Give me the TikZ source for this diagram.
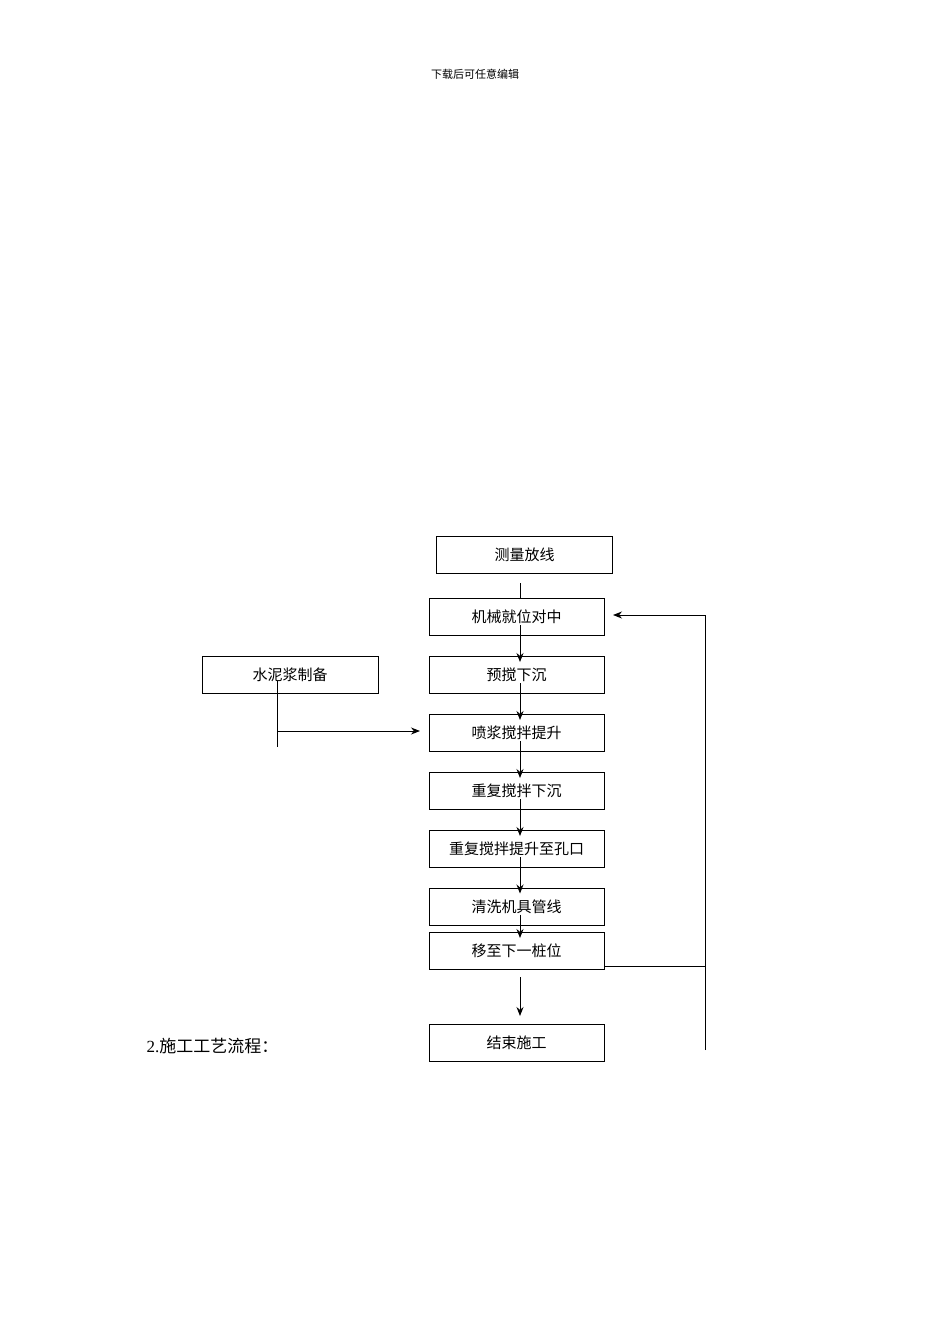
\documentclass[tikz,border=0pt]{standalone}
\usepackage{fontspec}
\setmainfont{Liberation Serif}
\newfontfamily\cjk{Noto Sans CJK SC}
\begin{document}
\begin{tikzpicture}[x=1pt,y=-1pt,
  box/.style={draw,line width=1pt,minimum width=175pt,minimum height=37pt,inner sep=0pt,font=\cjk\fontsize{15}{15}\selectfont},
  arr/.style={-{Stealth[length=9pt,width=7pt]},line width=0.9pt},
  ln/.style={line width=0.9pt}]
\useasboundingbox[fill=white] (0,0) rectangle (950,1344);
\usetikzlibrary{arrows.meta}
\node[font=\cjk\fontsize{11}{11}\selectfont] (hdr) at (475,74) {下载后可任意编辑};
\node[box,minimum width=176pt] (b0) at (524.5,555) {测量放线};
\node[box] (b1) at (516.5,617) {机械就位对中};
\node[box] (b2) at (516.5,675) {预搅下沉};
\node[box] (b3) at (516.5,733) {喷浆搅拌提升};
\node[box] (b4) at (516.5,791) {重复搅拌下沉};
\node[box] (b5) at (516.5,849) {重复搅拌提升至孔口};
\node[box] (b6) at (516.5,906.5) {清洗机具管线};
\node[box] (b7) at (516.5,951) {移至下一桩位};
\node[box] (b8) at (516.5,1042.5) {结束施工};
\node[box,minimum width=176pt] (w) at (290,675) {水泥浆制备};
\node[anchor=west,font=\cjk\fontsize{17}{17}\selectfont] (t) at (143,1046) {{\fontspec{Liberation Serif}2.}施工工艺流程：};
\coordinate (c0) at (520,583);
\draw[ln] (c0) -- (c0 |- b1.north);
\foreach \a/\b in {b1/b2,b2/b3,b3/b4,b4/b5,b5/b6,b6/b7}{
  \draw[arr] ([xshift=3.5pt,yshift=-8pt]\a.center) -- ([xshift=3.5pt,yshift=-6pt]\b.north);
}
\coordinate (e1) at (520,977);
\coordinate (e2) at (520,1016);
\draw[arr] (e1) -- (e2);
\coordinate (r1) at (705,966);
\coordinate (r2) at (705,1050);
\coordinate (r3) at (705,615);
\coordinate (r4) at (613,615);
\draw[ln] (b7.east |- r1) -- (r1);
\draw[ln] (r2) -- (r3);
\draw[arr] (r3) -- (r4);
\coordinate (w1) at (277,681);
\coordinate (w2) at (277,747);
\coordinate (w3) at (277,731);
\coordinate (w4) at (420,731);
\draw[ln] (w1) -- (w2);
\draw[arr] (w3) -- (w4);
\end{tikzpicture}
\end{document}
